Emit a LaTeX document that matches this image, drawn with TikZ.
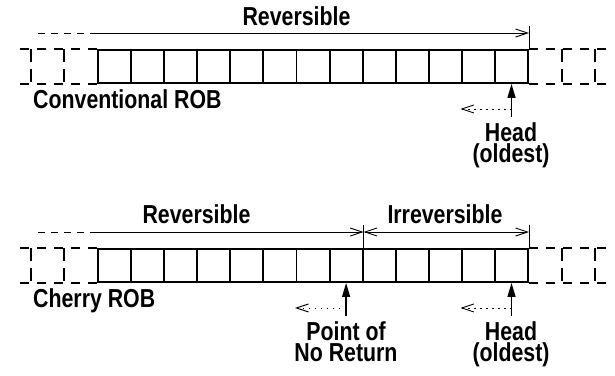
\documentclass[tikz,border=0pt]{standalone}
\usepackage{fontspec}
\newfontfamily\robfont{Liberation Sans}[FakeStretch=0.82]
\usetikzlibrary{arrows.meta,positioning}

\begin{document}
\begin{tikzpicture}[x=1pt, y=-1pt, >={Straight Barb[length=12pt,width=8pt]},
    cell/.style={rectangle, draw, line width=1.9pt, minimum width=33.08pt, minimum height=33pt, inner sep=0pt},
    ghost/.style={line width=1.9pt, dash pattern=on 9pt off 8pt},
    ghostv/.style={line width=1.9pt, dash pattern=on 13pt off 7pt},
    span/.style={line width=0.9pt},
    lbl/.style={font=\robfont\bfseries\fontsize{26}{21.5}\selectfont, inner sep=0pt, align=center},
    ptr/.style={line width=1.3pt, -{Triangle[length=14pt,width=8pt]}},
    drift/.style={line width=0.9pt, dash pattern=on 1.5pt off 4.5pt, ->}]
    \useasboundingbox (0,0) rectangle (615,375);

    % the two buffers
    \foreach \i in {1,...,13} {
        \node [cell] (conv\i) at ({98+33.08*(\i-0.5)}, 66.5) {};
        \node [cell] (cher\i) at ({98+33.08*(\i-0.5)}, 265.5) {};
    }
    \foreach \r in {conv,cher} {
        \draw[ghost] (\r1.north west) -- ++(-82,0);
        \draw[ghost] (\r1.south west) -- ++(-82,0);
        \draw[ghost] (\r13.north east) -- ++(84,0);
        \draw[ghost] (\r13.south east) -- ++(84,0);
        \draw[ghostv] ([xshift=-33pt]\r1.north west) -- ([xshift=-33pt]\r1.south west);
        \draw[ghostv] ([xshift=-66pt]\r1.north west) -- ([xshift=-66pt]\r1.south west);
        \draw[ghostv] ([xshift=33pt]\r13.north east) -- ([xshift=33pt]\r13.south east);
        \draw[ghostv] ([xshift=66pt]\r13.north east) -- ([xshift=66pt]\r13.south east);
    }

    % conventional ROB
    \coordinate (convL) at (38,33);
    \coordinate (convM) at (90,33);
    \coordinate (convR) at (conv13.north east |- convL);
    \draw[span, dash pattern=on 7pt off 6pt] (convL) -- (convM);
    \draw[span, ->] (convM) -- (convR);
    \draw[span] (conv13.north east) -- ++(0,-23);
    \node [lbl, anchor=base] (convRev) at (296.5,25) {Reversible};
    \node [lbl, anchor=base west] (convName) at (33,108) {Conventional ROB};
    \node [lbl, anchor=north] (convHead) at (511,122) {Head\\(oldest)};
    \draw[ptr] ([yshift=-33pt]conv13.south) -- (conv13.south);
    \draw[drift] ([yshift=-25pt]conv13.south) -- ++(-51,0);

    % cherry ROB
    \coordinate (cherL) at (38,232);
    \coordinate (cherM) at (90,232);
    \coordinate (cherP) at (cher8.north east |- cherL);
    \coordinate (cherR) at (cher13.north east |- cherL);
    \draw[span, dash pattern=on 7pt off 6pt] (cherL) -- (cherM);
    \draw[span, ->] (cherM) -- (cherP);
    \draw[span, <->] (cherP) -- (cherR);
    \draw[span] (cher8.north east) -- ++(0,-23);
    \draw[span] (cher13.north east) -- ++(0,-23);
    \node [lbl, anchor=base] (cherRev) at (196.5,223) {Reversible};
    \node [lbl, anchor=base] (cherIrr) at (445,223) {Irreversible};
    \node [lbl, anchor=base west] (cherName) at (33,307) {Cherry ROB};
    \node [lbl, anchor=north] (cherPoint) at (346,321) {Point of\\No Return};
    \node [lbl, anchor=north] (cherHead) at (511,321) {Head\\(oldest)};
    \draw[ptr] ([yshift=-33pt]cher8.south) -- (cher8.south);
    \draw[drift] ([yshift=-25pt]cher8.south) -- ++(-51,0);
    \draw[ptr] ([yshift=-33pt]cher13.south) -- (cher13.south);
    \draw[drift] ([yshift=-25pt]cher13.south) -- ++(-51,0);
\end{tikzpicture}
\end{document}
